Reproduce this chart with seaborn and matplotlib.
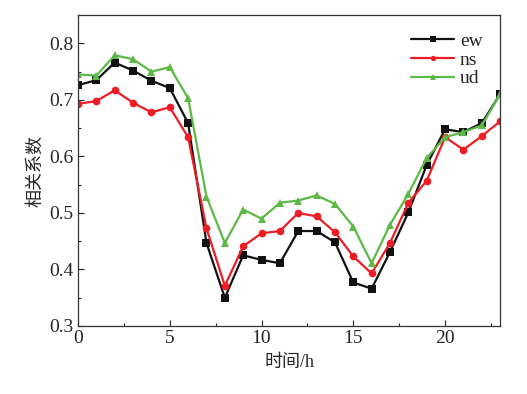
import numpy as np
import pandas as pd
import matplotlib
matplotlib.use("Agg")
import matplotlib.pyplot as plt
import seaborn as sns
from matplotlib.ticker import MultipleLocator

hours = list(range(24))
ew = [0.726, 0.735, 0.766, 0.752, 0.734, 0.721, 0.659, 0.447, 0.350, 0.425, 0.417, 0.411,
      0.468, 0.468, 0.448, 0.377, 0.366, 0.431, 0.501, 0.585, 0.648, 0.643, 0.659, 0.710]
ns = [0.693, 0.698, 0.717, 0.695, 0.678, 0.687, 0.634, 0.473, 0.371, 0.441, 0.464, 0.468,
      0.500, 0.494, 0.466, 0.423, 0.393, 0.447, 0.518, 0.557, 0.634, 0.612, 0.636, 0.662]
ud = [0.745, 0.743, 0.779, 0.772, 0.750, 0.758, 0.703, 0.529, 0.447, 0.506, 0.490, 0.518,
      0.522, 0.531, 0.516, 0.476, 0.411, 0.479, 0.534, 0.597, 0.634, 0.643, 0.655, 0.710]
series_names = ["ew", "ns", "ud"]

df = pd.DataFrame({
    "hour": hours * 3,
    "value": ew + ns + ud,
    "series": [s for s in series_names for _ in hours],
})

sns.set_style("ticks")
plt.rcParams["font.family"] = ["Liberation Serif", "Noto Sans CJK SC"]
plt.rcParams["xtick.direction"] = "in"
plt.rcParams["ytick.direction"] = "in"

fig = plt.figure(figsize=(5.27, 3.94), dpi=100)
ax = fig.add_axes([0.148, 0.1726, 0.801, 0.789])

palette = {"ew": "#111111", "ns": "#ee1d25", "ud": "#5cb946"}
markers = {"ew": "s", "ns": "o", "ud": "^"}
sns.lineplot(data=df, x="hour", y="value", hue="series", style="series",
             palette=palette, markers=markers, dashes=False, markersize=5.5,
             markeredgewidth=0, linewidth=1.6, ax=ax)

ax.set_xlim(0, 23)
ax.set_ylim(0.3, 0.85)
ax.xaxis.set_major_locator(MultipleLocator(5))
ax.xaxis.set_minor_locator(MultipleLocator(2.5))
ax.yaxis.set_minor_locator(MultipleLocator(0.05))
ax.set_yticks([0.3, 0.4, 0.5, 0.6, 0.7, 0.8])
ax.set_yticklabels(["0.3", "0.4", "0.5", "0.6", "0.7", "0.8"])
ax.tick_params(axis="both", which="major", labelsize=14, length=4, width=0.8, top=False, right=False, pad=3)
ax.tick_params(axis="both", which="minor", length=2.5, width=0.8)
for sp in ax.spines.values():
    sp.set_linewidth(0.9)
    sp.set_color("#333333")

ax.set_xlabel("时间/h", fontsize=13, labelpad=5)
ax.set_ylabel("相关系数", fontsize=13, labelpad=4)

leg = ax.legend(frameon=False, loc="upper right", fontsize=14, handlelength=2.2,
                handletextpad=0.3, labelspacing=0.05, borderaxespad=0.5, markerscale=0.7)
leg.set_title(None)

fig.savefig("out.png", dpi=100)
